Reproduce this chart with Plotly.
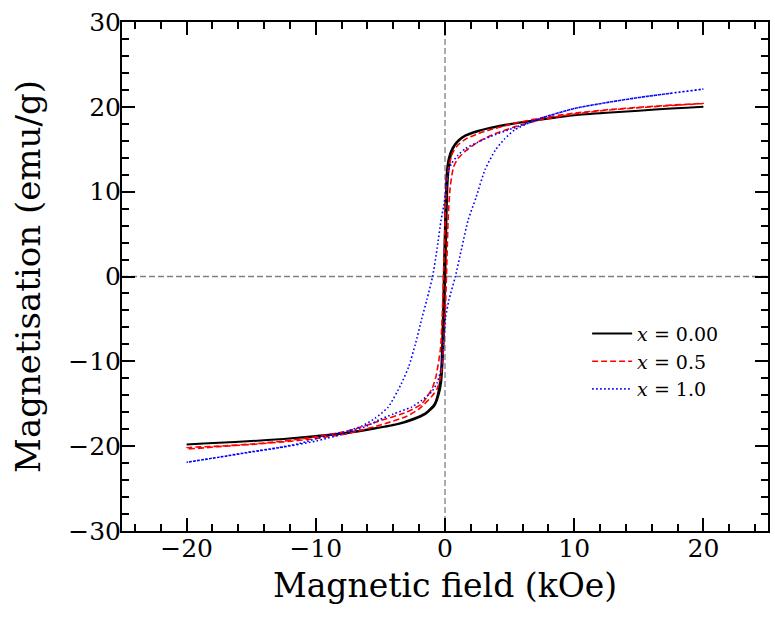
import plotly.graph_objects as go

# ---- data (H in kOe, M in emu/g) ----
# x = 0.00
h0_down = [20, 17.5, 15, 12.5, 10, 7.5, 5.5, 3.5, 2.5, 1.6, 1.0, 0.6, 0.3, 0.15, 0.05, -0.05, -0.12, -0.2, -0.3, -0.5, -0.8, -1.5, -2.5, -3.6, -5.5, -7.5, -10, -12.5, -15, -17.5, -20]
m0_down = [20.0, 19.8, 19.55, 19.3, 19.0, 18.55, 18.1, 17.55, 17.15, 16.65, 16.0, 15.2, 14.0, 12.5, 9.0, 3.0, -2.0, -7.0, -11.0, -13.5, -15.0, -16.1, -16.8, -17.35, -17.9, -18.4, -18.8, -19.15, -19.4, -19.6, -19.8]
h0_up = [-20, -17.5, -15, -12.5, -10, -7.5, -5.5, -3.6, -2.5, -1.5, -0.8, -0.5, -0.3, -0.15, -0.05, 0.05, 0.12, 0.2, 0.35, 0.6, 1.0, 1.6, 2.5, 3.5, 5.5, 7.5, 10, 12.5, 15, 17.5, 20]
m0_up = [-19.8, -19.6, -19.4, -19.15, -18.85, -18.45, -17.95, -17.4, -16.9, -16.2, -15.2, -14.0, -12.5, -9.0, -4.0, 2.0, 7.0, 11.0, 13.5, 15.0, 15.9, 16.6, 17.1, 17.5, 18.05, 18.5, 19.0, 19.3, 19.55, 19.8, 20.0]

# x = 0.5
h5_down = [20, 17.5, 15, 12.5, 10, 7.5, 5.5, 3.5, 2.5, 1.6, 1.0, 0.6, 0.3, 0.1, 0.0, -0.1, -0.2, -0.35, -0.7, -1.0, -1.8, -3.0, -5, -7.5, -10, -12.5, -15, -17.5, -20]
m5_down = [20.4, 20.2, 19.95, 19.65, 19.25, 18.7, 18.1, 17.3, 16.8, 16.2, 15.5, 14.6, 13.0, 10.5, 6.0, 1.0, -4.0, -8.5, -11.8, -13.2, -15.0, -16.0, -17.0, -18.2, -18.9, -19.4, -19.75, -20.0, -20.2]
h5_up = [-20, -17.5, -15, -12.5, -10, -7.5, -5, -3.0, -2.0, -1.0, -0.6, -0.3, -0.1, 0.05, 0.15, 0.25, 0.4, 0.66, 1.0, 1.6, 2.5, 3.5, 5.5, 7.5, 10, 12.5, 15, 17.5, 20]
m5_up = [-20.3, -20.05, -19.8, -19.5, -19.1, -18.5, -17.5, -16.5, -15.6, -14.1, -13.2, -11.5, -8.0, -3.0, 2.0, 7.0, 10.5, 12.9, 13.9, 14.8, 15.8, 16.6, 17.7, 18.5, 19.15, 19.6, 19.9, 20.15, 20.4]

# x = 1.0
h10_down = [20, 17.5, 15, 12.5, 10, 7.5, 5.5, 3.5, 2.5, 1.6, 1.0, 0.5, 0.3, 0.1, -0.1, -0.3, -0.6, -0.96, -1.4, -1.8, -2.3, -2.8, -3.4, -4.4, -5.4, -6.4, -7.5, -9, -11.3, -13, -15.2, -17.5, -20]
m10_down = [22.1, 21.6, 21.1, 20.5, 19.8, 18.7, 17.6, 16.5, 15.8, 15.1, 14.3, 13.3, 12.6, 10.5, 8.3, 6.7, 3.4, 0.0, -2.7, -5.0, -8.0, -10.6, -12.7, -15.4, -16.7, -17.6, -18.2, -18.7, -19.7, -20.2, -20.7, -21.3, -21.9]
h10_up = [-20, -17.5, -15, -12.5, -10, -7.5, -6, -5.1, -4, -2.6, -1.8, -1.04, -0.6, -0.27, -0.1, 0.05, 0.3, 0.8, 1.3, 1.8, 2.4, 3.1, 3.9, 4.6, 5.4, 6.5, 7.5, 10, 12.5, 15, 17.5, 20]
m10_up = [-21.9, -21.3, -20.7, -20.1, -19.4, -18.4, -17.6, -16.9, -16.2, -15.4, -14.6, -13.6, -12.5, -10.6, -7.5, -4.8, -2.8, 0.0, 3.4, 6.7, 9.3, 12.6, 14.9, 16.2, 17.3, 18.1, 18.7, 19.8, 20.5, 21.1, 21.6, 22.1]

labels = ["<i>x</i> = 0.00", "<i>x</i> = 0.5", "<i>x</i> = 1.0"]

x_ticks = [-20, -10, 0, 10, 20]
y_ticks = [-30, -20, -10, 0, 10, 20, 30]

FONT = "DejaVu Serif"

fig = go.Figure()

series = [
    (h0_down + h0_up, m0_down + m0_up, labels[0], "black", "solid", 2.0),
    (h5_down + h5_up, m5_down + m5_up, labels[1], "red", "6px,3px", 1.6),
    (h10_down + h10_up, m10_down + m10_up, labels[2], "blue", "1.6px,2.4px", 1.6),
]
for hx, my, name, col, dash, w in series:
    fig.add_trace(go.Scatter(x=hx, y=my, mode="lines", name=name,
                             line=dict(color=col, dash=dash, width=w, shape="spline", smoothing=0.6)))

# zero reference lines
fig.add_shape(type="line", xref="x", yref="paper", x0=0, x1=0, y0=0, y1=1,
              line=dict(color="gray", width=1.3, dash="6px,3px"), layer="below")
fig.add_shape(type="line", xref="paper", yref="y", x0=0, x1=1, y0=0, y1=0,
              line=dict(color="gray", width=1.3, dash="6px,3px"), layer="below")

def fmt(v):
    return ("\u2212" + str(-v)) if v < 0 else str(v)

axis_common = dict(
    showgrid=False, zeroline=False, showline=True, linecolor="black", linewidth=2,
    mirror="ticks", ticks="inside", ticklen=13, tickwidth=2, tickcolor="black",
    tickfont=dict(family=FONT, size=25, color="black"),
    minor=dict(ticks="inside", ticklen=7, tickwidth=1.6, tickcolor="black", dtick=2, showgrid=False),
    automargin=False, ticklabelstandoff=-6,
)

fig.update_xaxes(range=[-25, 25], tickvals=x_ticks, ticktext=[fmt(v) for v in x_ticks],
                 title=dict(text="Magnetic field (kOe)", font=dict(family=FONT, size=33, color="black"), standoff=12),
                 **axis_common)
fig.update_yaxes(range=[-30, 30], tickvals=y_ticks, ticktext=[fmt(v) for v in y_ticks],
                 title=dict(text="Magnetisation (emu/g)", font=dict(family=FONT, size=34, color="black"), standoff=17),
                 **axis_common)

fig.update_layout(
    width=775, height=617,
    margin=dict(l=122, r=7, t=22, b=86),
    paper_bgcolor="white", plot_bgcolor="white",
    font=dict(family=FONT, color="black"),
    legend=dict(x=0.72, y=0.425, xanchor="left", yanchor="top",
                bgcolor="rgba(0,0,0,0)", borderwidth=0,
                font=dict(family=FONT, size=19, color="black"),
                tracegroupgap=0, itemwidth=40),
    showlegend=True,
)

fig.write_html("out.html", config={"displayModeBar": False},
               post_script="document.body.style.margin='0';")
